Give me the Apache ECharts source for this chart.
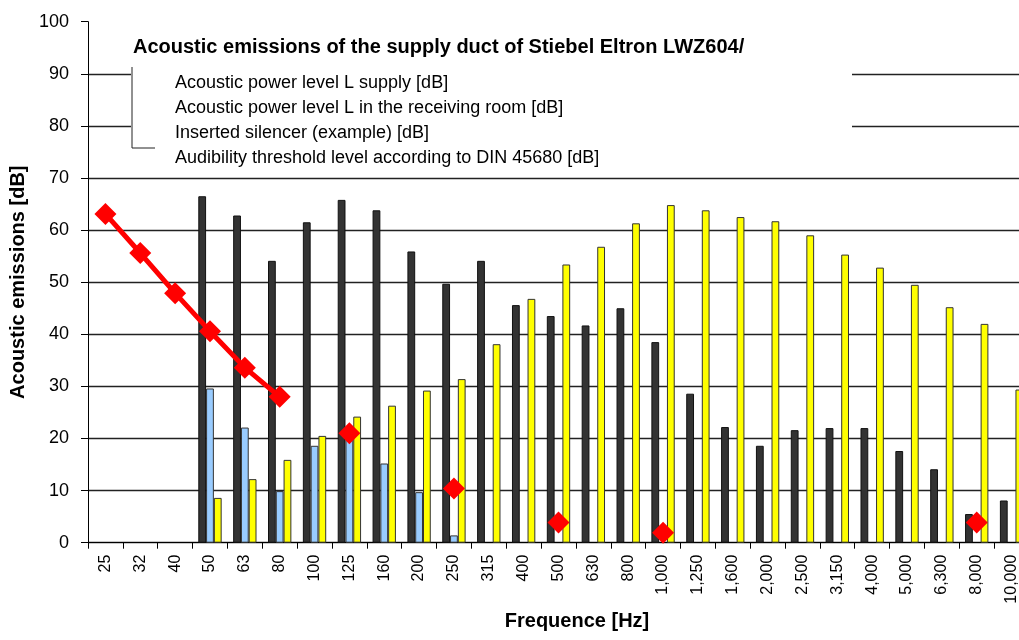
<!DOCTYPE html>
<html><head><meta charset="utf-8">
<script src="https://cdn.jsdelivr.net/npm/echarts@6/dist/echarts.min.js"></script>
<style>html,body{margin:0;padding:0;background:#fff;overflow:hidden}#c{width:1019px;height:640px}</style>
</head><body><div id="c"></div>
<script>
const categories = ['25','32','40','50','63','80','100','125','160','200','250','315','400','500','630','800','1,000','1,250','1,600','2,000','2,500','3,150','4,000','5,000','6,300','8,000','10,000'];
const supply = [null,null,null,66.5,62.8,54.1,61.5,65.8,63.8,55.9,49.7,54.1,45.6,43.5,41.7,45.0,38.5,28.6,22.2,18.6,21.6,22.0,22.0,17.6,14.1,5.5,8.1];
const receiving = [null,null,null,29.6,22.1,9.9,18.6,19.8,15.2,9.7,1.4,null,null,null,null,null,null,null,null,null,null,null,null,null,null,null,null];
const silencer = [null,null,null,8.6,12.2,15.9,20.5,24.2,26.3,29.2,31.4,38.1,46.8,53.4,56.8,61.3,64.8,63.8,62.5,61.7,59.0,55.3,52.8,49.5,45.2,42.0,29.4];
const threshold = [63.1,55.6,47.9,40.6,33.6,28.0,null,21.0,null,null,10.4,null,null,3.9,null,null,1.9,null,null,null,null,null,null,null,null,3.9,null];
const yTicks = [0,10,20,30,40,50,60,70,80,90,100];
const names = ['Acoustic power level L supply [dB]','Acoustic power level L in the receiving room [dB]','Inserted silencer (example) [dB]','Audibility threshold level according to DIN 45680 [dB]'];

const F = '"Liberation Sans", Arial, sans-serif';
const chart = echarts.init(document.getElementById('c'), null, {renderer:'canvas'});
chart.setOption({
  backgroundColor:'#fff',
  animation:false,
  title:{text:'Acoustic emissions of the supply duct of Stiebel Eltron LWZ604/', left:133, top:37, padding:0,
    textStyle:{fontFamily:F, fontSize:20, fontWeight:'bold', color:'#000'}},
  legend:{orient:'vertical', left:144, top:74.5, padding:0, itemWidth:25, itemHeight:14, itemGap:6.8, z:10,
    data:names.map(n=>({name:n, icon:'rect', itemStyle:{opacity:0}, lineStyle:{opacity:0}})),
    textStyle:{fontFamily:F, fontSize:18, color:'#000', lineHeight:18}},
  graphic:[
    {type:'rect', z:1, shape:{x:131, y:60, width:721, height:106}, style:{fill:'#fff'}},
    {type:'polyline', z:2, shape:{points:[[132,67],[132,148],[155,148]]}, style:{stroke:'#222', lineWidth:1, fill:null}}
  ],
  grid:{left:88, top:21.7, width:941, height:521, containLabel:false, outerBoundsMode:'none'},
  xAxis:{type:'category', data:categories,
    name:'Frequence [Hz]', nameLocation:'middle', nameGap:68,
    nameTextStyle:{fontFamily:F, fontSize:20, fontWeight:'bold', color:'#000', padding:[0,0,0,37]},
    axisLine:{lineStyle:{color:'#000', width:1}},
    axisTick:{show:true, alignWithLabel:false, length:6, lineStyle:{color:'#000'}},
    axisLabel:{rotate:90, margin:12, fontFamily:F, fontSize:16, color:'#000', interval:0},
    splitLine:{show:false}},
  yAxis:{type:'value', min:0, max:100, interval:10,
    name:'Acoustic emissions [dB]', nameLocation:'middle', nameGap:52,
    nameTextStyle:{fontFamily:F, fontSize:20, fontWeight:'bold', color:'#000'},
    axisLine:{show:true, lineStyle:{color:'#000', width:1}},
    axisTick:{show:true, length:7, lineStyle:{color:'#000'}},
    axisLabel:{margin:19, fontFamily:F, fontSize:18, color:'#000',
      formatter:v=>yTicks.includes(v)?String(v):''},
    splitLine:{show:true, showMaxLine:false, lineStyle:{color:'#222', width:1.3}}},
  series:[
    {name:names[0], type:'bar', data:supply, barGap:'0%', barCategoryGap:'33%',
      itemStyle:{color:'#333333', borderColor:'#111', borderWidth:1}},
    {name:names[1], type:'bar', data:receiving,
      itemStyle:{color:'#99CCFF', borderColor:'#333', borderWidth:1}},
    {name:names[2], type:'bar', data:silencer,
      itemStyle:{color:'#FFFF00', borderColor:'#333', borderWidth:1}},
    {name:names[3], type:'line', data:threshold, connectNulls:false, z:5,
      symbol:'diamond', symbolSize:22,
      itemStyle:{color:'#FF0000'}, lineStyle:{color:'#FF0000', width:5}}
  ]
});
</script></body></html>
